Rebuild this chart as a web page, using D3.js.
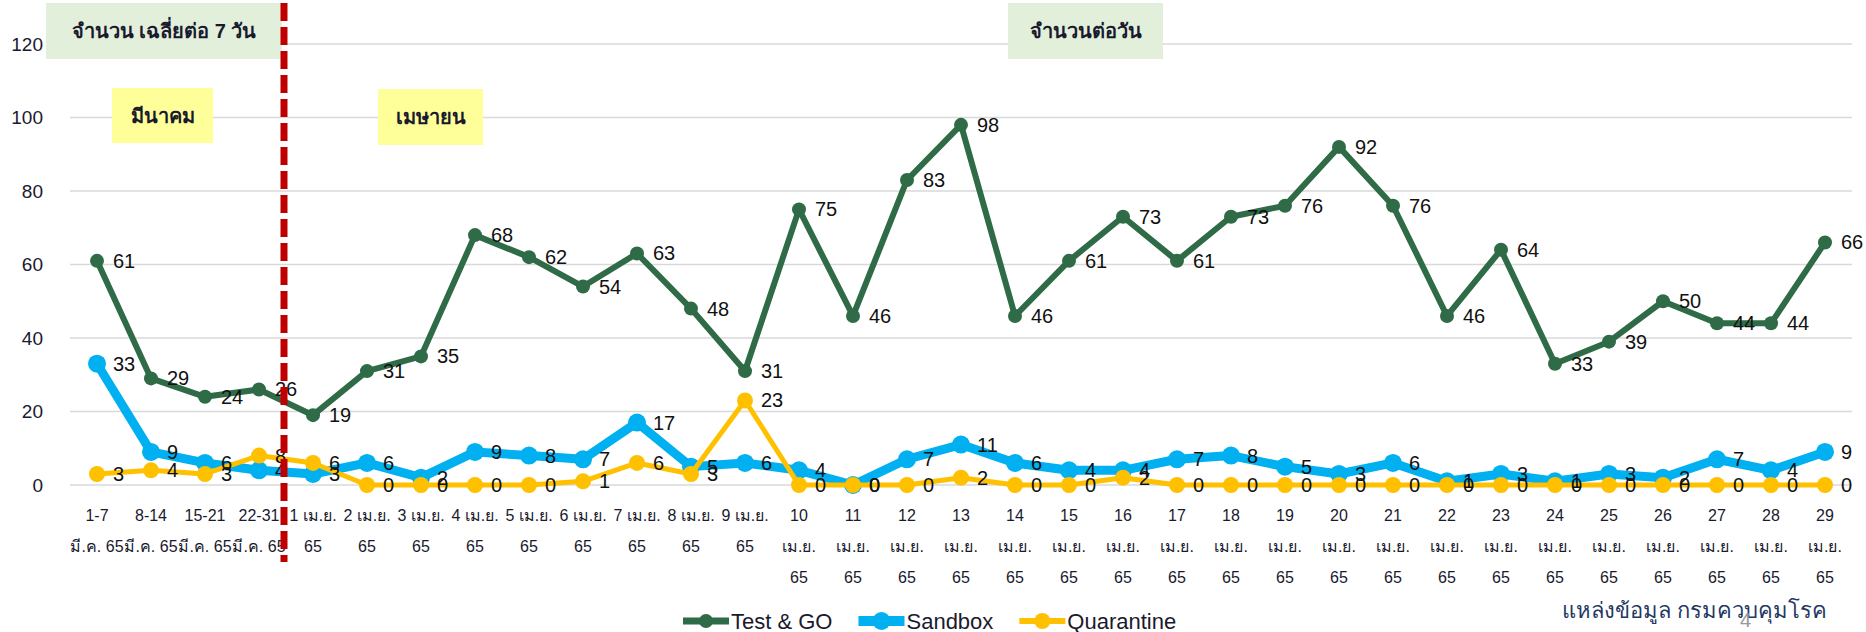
<!DOCTYPE html>
<html>
<head>
<meta charset="utf-8">
<script src="https://cdn.jsdelivr.net/npm/d3@7"></script>
<style>
  body { margin: 0; background: #fff; }
  svg text { font-family: Tahoma, "Liberation Sans", "Noto Sans", sans-serif; }
</style>
</head>
<body>
<svg width="1866" height="632"></svg>
<script>
// categories (x tick labels, lines split by "\n")
const categories = [
  "1-7\nมี.ค. 65", "8-14\nมี.ค. 65", "15-21\nมี.ค. 65", "22-31\nมี.ค. 65",
  "1 เม.ย.\n65", "2 เม.ย.\n65", "3 เม.ย.\n65", "4 เม.ย.\n65", "5 เม.ย.\n65",
  "6 เม.ย.\n65", "7 เม.ย.\n65", "8 เม.ย.\n65", "9 เม.ย.\n65",
  "10\nเม.ย.\n65", "11\nเม.ย.\n65", "12\nเม.ย.\n65", "13\nเม.ย.\n65", "14\nเม.ย.\n65",
  "15\nเม.ย.\n65", "16\nเม.ย.\n65", "17\nเม.ย.\n65", "18\nเม.ย.\n65", "19\nเม.ย.\n65",
  "20\nเม.ย.\n65", "21\nเม.ย.\n65", "22\nเม.ย.\n65", "23\nเม.ย.\n65", "24\nเม.ย.\n65",
  "25\nเม.ย.\n65", "26\nเม.ย.\n65", "27\nเม.ย.\n65", "28\nเม.ย.\n65", "29\nเม.ย.\n65"
];
const testGo = [61, 29, 24, 26, 19, 31, 35, 68, 62, 54, 63, 48, 31, 75, 46, 83, 98, 46, 61, 73, 61, 73, 76, 92, 76, 46, 64, 33, 39, 50, 44, 44, 66];
const sandbox = [33, 9, 6, 4, 3, 6, 2, 9, 8, 7, 17, 5, 6, 4, 0, 7, 11, 6, 4, 4, 7, 8, 5, 3, 6, 1, 3, 1, 3, 2, 7, 4, 9];
const quarantine = [3, 4, 3, 8, 6, 0, 0, 0, 0, 1, 6, 3, 23, 0, 0, 0, 2, 0, 0, 2, 0, 0, 0, 0, 0, 0, 0, 0, 0, 0, 0, 0, 0];
const yTicks = [0, 20, 40, 60, 80, 100, 120];

const seriesList = [
  {name: "Test & GO", values: testGo, color: "#2E6B46", width: 6, r: 7},
  {name: "Sandbox", values: sandbox, color: "#00B0F0", width: 9, r: 9},
  {name: "Quarantine", values: quarantine, color: "#FFC000", width: 5, r: 8}
];

const svg = d3.select("svg");

const x = d3.scaleBand()
  .domain(d3.range(categories.length))
  .range([70, 1852]);
const xc = i => x(i) + x.bandwidth() / 2;

const y = d3.scaleLinear()
  .domain([0, 120])
  .range([485, 44]);

// gridlines
svg.append("g")
  .selectAll("line")
  .data(yTicks)
  .join("line")
  .attr("x1", 70)
  .attr("x2", 1852)
  .attr("y1", d => y(d))
  .attr("y2", d => y(d))
  .attr("stroke", "#D9D9D9")
  .attr("stroke-width", 1.5);

// y axis labels
const yAxis = d3.axisLeft(y).tickValues(yTicks).tickSize(0).tickPadding(0);
svg.append("g")
  .attr("transform", "translate(43,0)")
  .call(yAxis)
  .call(g => g.select(".domain").remove())
  .call(g => g.selectAll("text")
    .style("font-family", "Tahoma, 'Liberation Sans', sans-serif")
    .style("font-size", "19px")
    .attr("fill", "#1a1a2e"));

// x labels
const xl = svg.append("g");
categories.forEach((c, i) => {
  c.split("\n").forEach((line, k) => {
    xl.append("text")
      .attr("x", xc(i))
      .attr("y", 515 + k * 31)
      .attr("text-anchor", "middle")
      .attr("dominant-baseline", "central")
      .style("font-size", "16px")
      .attr("fill", "#1a1a2e")
      .text(line);
  });
});

// lines + markers
const line = d3.line()
  .x((d, i) => xc(i))
  .y(d => y(d));

seriesList.forEach(s => {
  const g = svg.append("g");
  g.append("path")
    .attr("d", line(s.values))
    .attr("fill", "none")
    .attr("stroke", s.color)
    .attr("stroke-width", s.width)
    .attr("stroke-linejoin", "round");
  g.selectAll("circle")
    .data(s.values)
    .join("circle")
    .attr("cx", (d, i) => xc(i))
    .attr("cy", d => y(d))
    .attr("r", s.r)
    .attr("fill", s.color);
});

// data labels (right of points)
seriesList.forEach(s => {
  svg.append("g")
    .selectAll("text")
    .data(s.values)
    .join("text")
    .attr("x", (d, i) => xc(i) + 16)
    .attr("y", d => y(d))
    .attr("dominant-baseline", "central")
    .style("font-size", "20px")
    .attr("fill", "#111")
    .text(d => d);
});

// annotation boxes
function box(x0, y0, w, h, fill, label, bold) {
  svg.append("rect")
    .attr("x", x0).attr("y", y0).attr("width", w).attr("height", h)
    .attr("fill", fill);
  svg.append("text")
    .attr("x", x0 + w / 2)
    .attr("y", y0 + h / 2)
    .attr("text-anchor", "middle")
    .attr("dominant-baseline", "central")
    .style("font-size", "20px")
    .style("font-weight", bold ? "bold" : "normal")
    .attr("fill", "#1a1a2e")
    .text(label);
}
box(46, 3, 236, 56, "#E2EFDA", "จำนวน เฉลี่ยต่อ 7 วัน", true);
box(1008, 3, 155, 56, "#E2EFDA", "จำนวนต่อวัน", true);
box(112, 88, 101, 55, "#FFFF99", "มีนาคม", true);
box(378, 89, 105, 56, "#FFFF99", "เมษายน", true);

// red divider between March weeks and April days
const divX = x(3) + x.bandwidth() - 2;
svg.append("line")
  .attr("x1", divX).attr("x2", divX)
  .attr("y1", 3).attr("y2", 562)
  .attr("stroke", "#C00000")
  .attr("stroke-width", 7)
  .attr("stroke-dasharray", "18,6");

// legend
const legend = svg.append("g").attr("transform", "translate(683,621)");
let lx = 0;
seriesList.forEach(s => {
  const item = legend.append("g").attr("transform", `translate(${lx},0)`);
  item.append("line")
    .attr("x1", 0).attr("x2", 46)
    .attr("stroke", s.color)
    .attr("stroke-width", s.width + 1);
  item.append("circle")
    .attr("cx", 23).attr("r", s.r)
    .attr("fill", s.color);
  const t = item.append("text")
    .attr("x", 48)
    .attr("dominant-baseline", "central")
    .style("font-size", "22px")
    .attr("fill", "#1a1a2e")
    .text(s.name);
  lx += 48 + t.node().getComputedTextLength() + 26;
});

// source
svg.append("text")
  .attr("x", 1562)
  .attr("y", 610)
  .attr("dominant-baseline", "central")
  .style("font-size", "22px")
  .attr("fill", "#1F3864")
  .text("แหล่งข้อมูล กรมควบคุมโรค");
svg.append("text")
  .attr("x", 1740)
  .attr("y", 620)
  .attr("dominant-baseline", "central")
  .style("font-size", "20px")
  .attr("fill", "#999")
  .text("4");
</script>
</body>
</html>
